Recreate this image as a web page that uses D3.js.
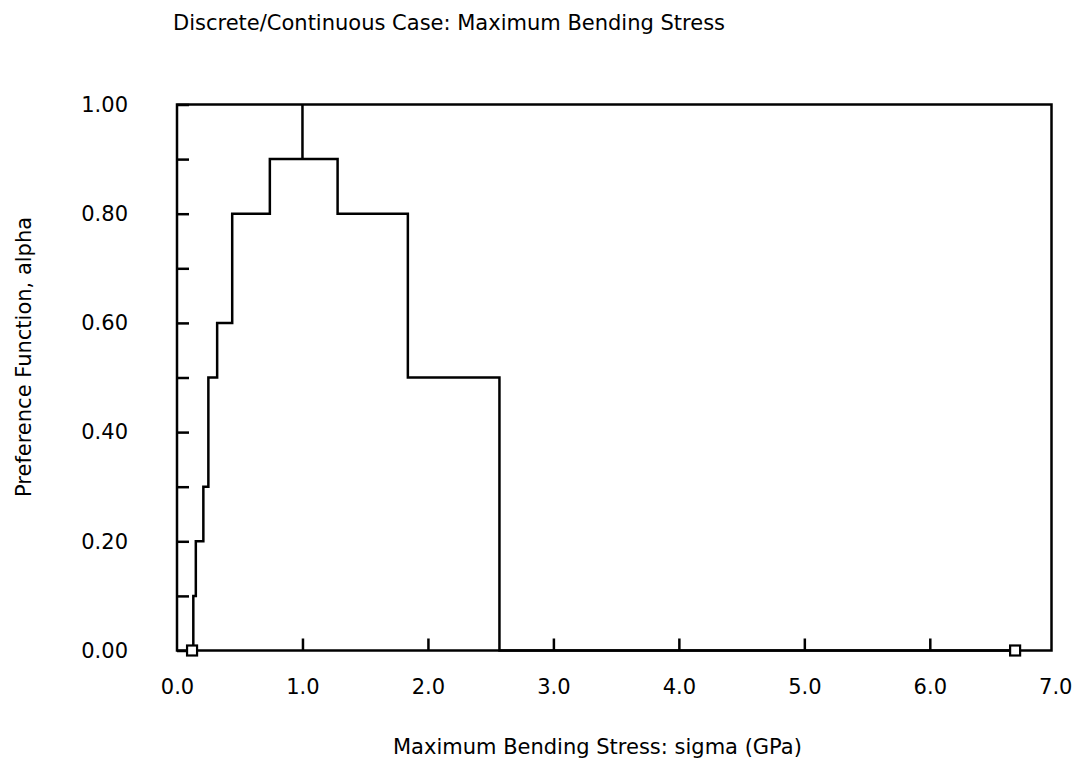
<!DOCTYPE html>
<html>
<head>
<meta charset="utf-8">
<script src="https://cdn.jsdelivr.net/npm/d3@7"></script>
<style>
  html, body { margin: 0; padding: 0; background: #fff; }
  svg { display: block; }
  text { font-family: "DejaVu Sans", sans-serif; fill: #000; }
</style>
</head>
<body>
<svg id="chart" width="1077" height="765"></svg>
<script>
// ---- data ----
const title = "Discrete/Continuous Case: Maximum Bending Stress";
const xTitle = "Maximum Bending Stress: sigma (GPa)";
const yTitle = "Preference Function, alpha";
// staircase vertices (drawn with a step-before curve)
const stepSigma = [0.13, 0.15, 0.21, 0.25, 0.32, 0.44, 0.74, 1.0, 1.0, 1.0, 1.28, 1.84, 2.57, 6.68];
const stepAlpha = [0.0, 0.1, 0.2, 0.3, 0.5, 0.6, 0.8, 0.9, 1.0, 0.9, 0.9, 0.8, 0.5, 0.0];
// end-point markers
const markerSigma = [0.12, 6.68];
const markerAlpha = [0.0, 0.0];
// axis ticks
const xTickValues = [0, 1, 2, 3, 4, 5, 6, 7];
const xTickLabels = ["0.0", "1.0", "2.0", "3.0", "4.0", "5.0", "6.0", "7.0"];
const yTickValues = [0, 0.1, 0.2, 0.3, 0.4, 0.5, 0.6, 0.7, 0.8, 0.9, 1.0];
const yTickLabels = ["0.00", "", "0.20", "", "0.40", "", "0.60", "", "0.80", "", "1.00"];
const xMax = 6.97;

(function () {
// ---- layout ----
const pL = 177, pR = 1051.5, pT = 104.5, pB = 650.5;
const svg = d3.select("#chart");
const x = d3.scaleLinear().domain([0, xMax]).range([pL, pR]);
const y = d3.scaleLinear().domain([0, 1]).range([pB, pT]);
const fs = 21;

// frame
svg.append("rect")
  .attr("x", pL).attr("y", pT)
  .attr("width", pR - pL).attr("height", pB - pT)
  .attr("fill", "none").attr("stroke", "#000").attr("stroke-width", 2.5);

// x axis (ticks pointing inward)
const xAxis = d3.axisBottom(x)
  .tickValues(xTickValues)
  .tickFormat((d, i) => xTickLabels[i])
  .tickSizeInner(-12).tickSizeOuter(0).tickPadding(29);
const gx = svg.append("g").attr("transform", `translate(0,${pB})`).call(xAxis);
gx.select(".domain").remove();
gx.selectAll(".tick line").attr("stroke", "#000").attr("stroke-width", 2.5)
  .filter(d => d === 0 || d === 7).remove();
gx.selectAll(".tick text").attr("font-size", fs).attr("font-family", "DejaVu Sans");

// y axis (ticks pointing inward)
const yAxis = d3.axisLeft(y)
  .tickValues(yTickValues)
  .tickFormat((d, i) => yTickLabels[i])
  .tickSizeInner(-12).tickSizeOuter(0).tickPadding(49);
const gy = svg.append("g").attr("transform", `translate(${pL},0)`).call(yAxis);
gy.select(".domain").remove();
gy.selectAll(".tick line").attr("stroke", "#000").attr("stroke-width", 2.5);
gy.selectAll(".tick text").attr("font-size", fs).attr("font-family", "DejaVu Sans");

// staircase line
const pts = stepSigma.map((s, i) => [s, stepAlpha[i]]);
const line = d3.line().x(d => x(d[0])).y(d => y(d[1])).curve(d3.curveStepBefore);
svg.append("path")
  .attr("d", line(pts))
  .attr("fill", "none").attr("stroke", "#000").attr("stroke-width", 2.5)
  .attr("stroke-linejoin", "miter");

// open square markers
svg.selectAll("rect.marker")
  .data(markerSigma.map((s, i) => [s, markerAlpha[i]]))
  .enter().append("rect").attr("class", "marker")
  .attr("x", d => x(d[0]) - 5).attr("y", d => y(d[1]) - 5)
  .attr("width", 10).attr("height", 10)
  .attr("fill", "#fff").attr("stroke", "#000").attr("stroke-width", 2.2);

// titles
svg.append("text").attr("x", 173).attr("y", 30)
  .attr("font-size", fs).text(title);
svg.append("text").attr("x", 393).attr("y", 754)
  .attr("font-size", fs).text(xTitle);
svg.append("text")
  .attr("transform", "translate(31,497) rotate(-90)")
  .attr("font-size", fs).text(yTitle);
})();
</script>
</body>
</html>
